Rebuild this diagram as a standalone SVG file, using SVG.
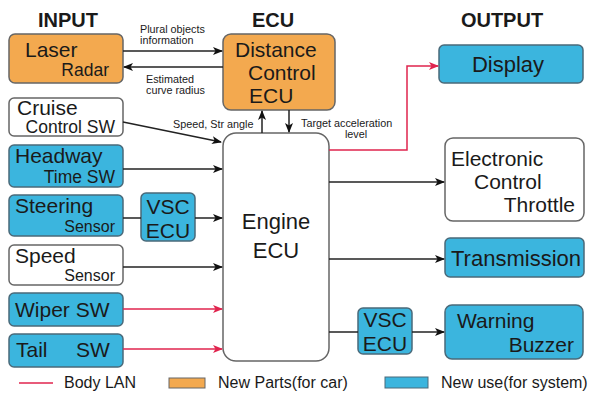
<svg xmlns="http://www.w3.org/2000/svg" width="594" height="393" viewBox="0 0 594 393">
<defs>
<marker id="ab" markerWidth="10" markerHeight="8" refX="9" refY="4" orient="auto" markerUnits="userSpaceOnUse"><path d="M0,0 L10,4 L0,8 L2.5,4 Z" fill="#111"/></marker>
<marker id="ar" markerWidth="10" markerHeight="8" refX="9" refY="4" orient="auto" markerUnits="userSpaceOnUse"><path d="M0,0 L10,4 L0,8 L2.5,4 Z" fill="#e0244e"/></marker>
<style>
text{font-family:"Liberation Sans",Arial,sans-serif;fill:#1a1a1a}
.t{font-size:20px;font-weight:bold;text-anchor:middle}
.n{font-size:21px}
.s{font-size:17.5px}
.l{font-size:10.8px}
.org{fill:#f3a94f;stroke:#666;stroke-width:1.5}
.blu{fill:#3bb5de;stroke:#4a6a7a;stroke-width:1.5}
.wht{fill:#fff;stroke:#666;stroke-width:1.5}
.k{stroke:#222;stroke-width:1.5;fill:none}
.r{stroke:#e0244e;stroke-width:1.5;fill:none}
</style>
</defs>
<rect width="594" height="393" fill="#fff"/>
<text class="t" x="68" y="27">INPUT</text>
<text class="t" x="273" y="27">ECU</text>
<text class="t" x="502" y="27">OUTPUT</text>

<g id="laser"><rect class="org" x="9" y="34" width="114" height="49" rx="6"/><text class="n" x="25" y="57">Laser</text><text class="s" x="109" y="76" text-anchor="end">Radar</text></g>
<g id="cruise"><rect class="wht" x="9" y="98" width="114" height="38" rx="5"/><text class="n" x="17" y="115">Cruise</text><text class="s" x="115" y="133" text-anchor="end">Control SW</text></g>
<g id="headway"><rect class="blu" x="9" y="145" width="114" height="42" rx="5"/><text class="n" x="15" y="163">Headway</text><text class="s" x="115" y="183" text-anchor="end">Time SW</text></g>
<g id="steering"><rect class="blu" x="9" y="195" width="114" height="41" rx="5"/><text class="n" x="15" y="213">Steering</text><text class="s" x="115" y="232" text-anchor="end" style="font-size:16px">Sensor</text></g>
<g id="vsc1"><rect class="blu" x="141" y="193" width="54" height="48" rx="5"/><text class="n" x="168" y="214" text-anchor="middle">VSC</text><text class="n" x="168" y="238" text-anchor="middle">ECU</text></g>
<g id="speed"><rect class="wht" x="9" y="245" width="114" height="40" rx="5"/><text class="n" x="15" y="263">Speed</text><text class="s" x="115" y="281" text-anchor="end" style="font-size:16px">Sensor</text></g>
<g id="wiper"><rect class="blu" x="9" y="293" width="114" height="33" rx="5"/><text class="n" x="15" y="317">Wiper SW</text></g>
<g id="tail"><rect class="blu" x="9" y="334" width="114" height="33" rx="5"/><text class="n" x="16" y="357">Tail</text><text class="n" x="76" y="357">SW</text></g>

<g id="dce"><rect class="org" x="223" y="34" width="112" height="76" rx="8"/><text class="n" x="235" y="57">Distance</text><text class="n" x="248" y="80">Control</text><text class="n" x="249" y="103">ECU</text></g>
<g id="engine"><rect class="wht" x="223" y="133" width="106" height="228" rx="13"/><text x="276" y="229" text-anchor="middle" style="font-size:22px">Engine</text><text x="276" y="258" text-anchor="middle" style="font-size:22px">ECU</text></g>

<g id="display"><rect class="blu" x="439" y="45" width="144" height="38" rx="5"/><text x="508" y="72" text-anchor="middle" style="font-size:22px">Display</text></g>
<g id="throttle"><rect class="wht" x="445" y="138" width="139" height="83" rx="8"/><text class="n" x="451" y="166">Electronic</text><text class="n" x="474" y="189">Control</text><text class="n" x="575" y="212" text-anchor="end">Throttle</text></g>
<g id="trans"><rect class="blu" x="445" y="238" width="139" height="39" rx="5"/><text x="516" y="266" text-anchor="middle" style="font-size:22px">Transmission</text></g>
<g id="vsc2"><rect class="blu" x="358" y="308" width="54" height="46" rx="5"/><text class="n" x="385" y="327" text-anchor="middle">VSC</text><text class="n" x="385" y="351" text-anchor="middle">ECU</text></g>
<g id="buzzer"><rect class="blu" x="445" y="305" width="138" height="54" rx="7"/><text class="n" x="457" y="328">Warning</text><text class="n" x="574" y="352" text-anchor="end">Buzzer</text></g>

<g id="connectors">
<line class="k" x1="123" y1="51" x2="222" y2="51" marker-end="url(#ab)"/>
<line class="k" x1="223" y1="67" x2="124" y2="67" marker-end="url(#ab)"/>
<line class="k" x1="123" y1="122" x2="221" y2="142" marker-end="url(#ab)"/>
<line class="k" x1="123" y1="169" x2="222" y2="169" marker-end="url(#ab)"/>
<line class="k" x1="123" y1="218" x2="141" y2="218"/>
<line class="k" x1="195" y1="218" x2="222" y2="218" marker-end="url(#ab)"/>
<line class="k" x1="123" y1="267" x2="222" y2="267" marker-end="url(#ab)"/>
<line class="r" x1="123" y1="309" x2="222" y2="309" marker-end="url(#ar)"/>
<line class="r" x1="123" y1="349" x2="222" y2="349" marker-end="url(#ar)"/>
<line class="k" x1="262" y1="133" x2="262" y2="111" marker-end="url(#ab)"/>
<line class="k" x1="289" y1="110" x2="289" y2="132" marker-end="url(#ab)"/>
<polyline class="r" points="329,150 407,150 407,66 438,66" marker-end="url(#ar)"/>
<line class="k" x1="329" y1="182" x2="444" y2="182" marker-end="url(#ab)"/>
<line class="k" x1="329" y1="259" x2="444" y2="259" marker-end="url(#ab)"/>
<line class="k" x1="329" y1="332" x2="358" y2="332"/>
<line class="k" x1="412" y1="332" x2="444" y2="332" marker-end="url(#ab)"/>
<text class="l" x="140" y="33">Plural objects</text>
<text class="l" x="140" y="44">information</text>
<text class="l" x="146" y="83">Estimated</text>
<text class="l" x="146" y="94">curve radius</text>
<text class="l" x="173" y="128">Speed, Str angle</text>
<text class="l" x="301" y="127">Target acceleration</text>
<text class="l" x="356" y="138" text-anchor="middle">level</text>
</g>

<g id="legend">
<line class="r" x1="19" y1="383" x2="53" y2="383"/>
<text x="64" y="388" style="font-size:16px">Body LAN</text>
<rect class="org" x="169" y="378" width="36" height="10" style="stroke-width:1"/>
<text x="218" y="388" style="font-size:16px">New Parts(for car)</text>
<rect class="blu" x="385" y="377" width="43" height="11" style="stroke-width:1"/>
<text x="441" y="388" style="font-size:16px">New use(for system)</text>
</g>
</svg>
